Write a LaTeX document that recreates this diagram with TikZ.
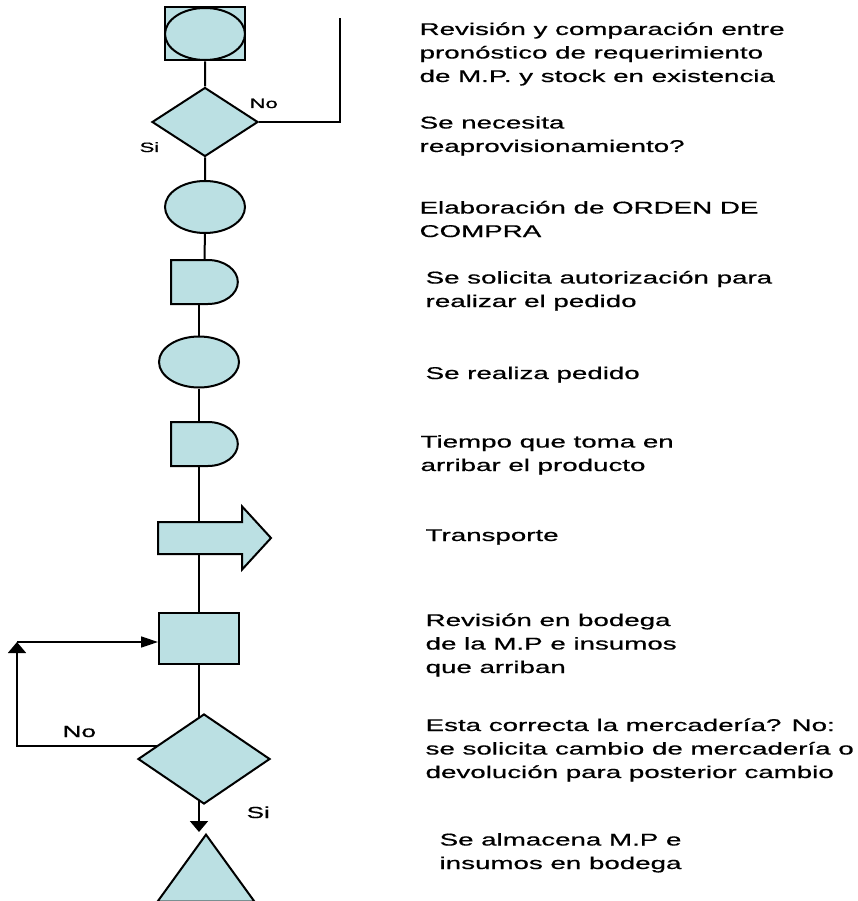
\documentclass[tikz,border=0pt]{standalone}
\usepackage{fontspec}
\setmainfont{Liberation Sans}
\newfontfamily\descfont{Liberation Sans}[FakeBold=0.5]
\usetikzlibrary{arrows.meta,shapes.geometric,shapes.misc,shapes.arrows,backgrounds}

\definecolor{boxfill}{RGB}{187,224,227}

\begin{document}
\begin{tikzpicture}[x=1pt,y=-1pt,line width=2pt,
	shp/.style={draw,fill=boxfill,inner sep=0pt},
	oval/.style={shp,ellipse,minimum width=80pt,minimum height=52pt},
	decide/.style={shp,diamond},
	waitbox/.style={shp,rounded rectangle,rounded rectangle left arc=none,
		minimum width=49pt,minimum height=44pt,xscale=1.36},
	link/.style={line width=2pt},
	thinlink/.style={line width=1.6pt},
	txt/.style={anchor=base west,align=left,inner sep=0pt,xscale=1.63,
		font=\descfont\fontsize{17}{23.5}\selectfont},
	tag/.style={anchor=base west,inner sep=0pt,xscale=1.63},
	vtip/.style={-{Triangle[length=11pt,width=18pt]}},
	htip/.style={-{Triangle[length=17pt,width=11pt]}}]
	
	\useasboundingbox (0,0) rectangle (857,901);
	
	% Shapes of the process
	\node[shp,minimum width=80pt,minimum height=53pt] (revbox) at (205,34) {};
	\node[oval] (rev) at (205,34) {};
	\node[decide,minimum width=106pt,minimum height=69pt] (dec1) at (205,122) {};
	\node[oval] (orden) at (205,207) {};
	\node[waitbox] (aut) at (204.5,282) {};
	\node[oval,minimum height=51pt] (ped) at (199,362) {};
	\node[waitbox] (arr) at (204.5,444) {};
	\node[shp,single arrow,inner ysep=15pt,single arrow head extend=15.5pt,
		single arrow tip angle=95,minimum height=113pt,anchor=tail] (tra) at (157,538) {};
	\node[shp,minimum width=80pt,minimum height=51pt] (bod) at (199,638.5) {};
	\node[decide,minimum width=132pt,minimum height=90pt] (dec2) at (204,759) {};
	\node[shp,isosceles triangle,shape border rotate=90,isosceles triangle stretches,
		minimum width=97pt,minimum height=67pt,anchor=apex] (alm) at (206,832) {};
	
	% Loose ends of the No branches
	\coordinate (noend) at (340,18);
	\coordinate (nolow) at (17,746);
	\coordinate (noup) at (17,642);
	
	% Connectors
	\begin{scope}[on background layer]
		\draw[link] (revbox) -- (dec1) -- (orden) -- (aut);
		\draw[link] (aut -| ped) -- (ped) -- (arr -| ped) -- (tra -| ped) -- (bod -| ped) -- (dec2 -| ped);
		\draw[link,vtip] (dec2 -| ped) -- (alm.apex -| ped);
		\draw[thinlink] (dec1) -| (noend);
		\draw[thinlink,vtip] (nolow -| dec2) -- (nolow) -- (noup);
		\draw[thinlink,htip] (noup) -- (noup -| bod.west);
	\end{scope}
	
	% Branch labels
	\node[tag,font=\descfont\fontsize{13.5}{16}\selectfont] (no1) at (248,108) {No};
	\node[tag,font=\descfont\fontsize{13.5}{16}\selectfont] (si1) at (138,152) {Si};
	\node[tag,font=\descfont\fontsize{16}{19}\selectfont] (no2) at (61,737) {No};
	\node[tag,font=\descfont\fontsize{16}{19}\selectfont] (si2) at (245,818) {Si};
	
	% Descriptions (placed at the baseline of their last line)
	\node[txt] (t1) at (418,82) {Revisión y comparación entre\\pronóstico de requerimiento\\de M.P. y stock en existencia};
	\node[txt] (t2) at (418,152) {Se necesita\\reaprovisionamiento?};
	\node[txt] (t3) at (418,237) {Elaboración de ORDEN DE\\COMPRA};
	\node[txt] (t4) at (424,307) {Se solicita autorización para\\realizar el pedido};
	\node[txt] (t5) at (424,379) {Se realiza pedido};
	\node[txt] (t6) at (419,471) {Tiempo que toma en\\arribar el producto};
	\node[txt] (t7) at (424,541) {Transporte};
	\node[txt] (t8) at (424,673) {Revisión en bodega\\de la M.P e insumos\\que arriban};
	\node[txt] (t9) at (424,778) {Esta correcta la mercadería? No:\\se solicita cambio de mercadería o\\devolución para posterior cambio};
	\node[txt] (t10) at (438,869) {Se almacena M.P e\\insumos en bodega};
	
\end{tikzpicture}
\end{document}
